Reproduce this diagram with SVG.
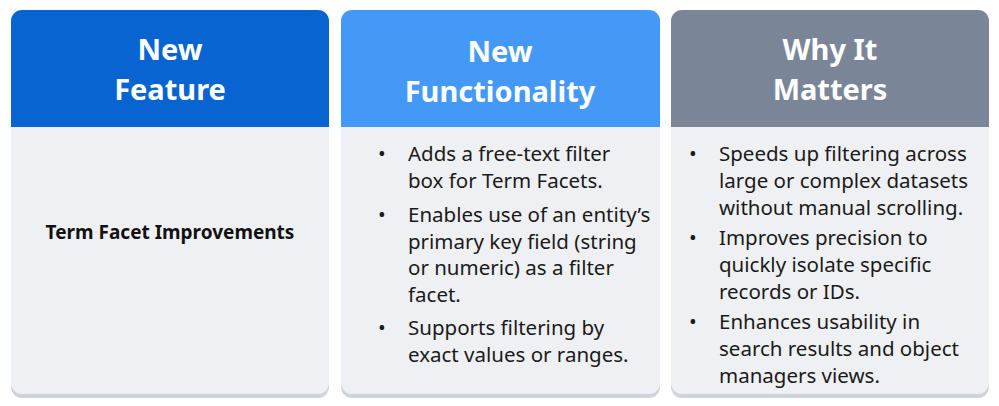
<svg xmlns="http://www.w3.org/2000/svg" width="999" height="406" viewBox="0 0 999 406">
<style>
.h{font-family:"Noto Sans","Open Sans",sans-serif;font-weight:700;font-size:29px;fill:#fff;text-anchor:middle}
.t{font-family:"Noto Sans","Open Sans",sans-serif;font-size:20.5px;fill:#1a1a1a}
.b{font-family:"Noto Sans",sans-serif;font-weight:700;font-size:19px;fill:#111;text-anchor:middle}
.body{fill:#eff0f3}
.sh{fill:#cfd3db}
</style>
<g id="card1">
<rect class="sh" x="11" y="14" width="318" height="384" rx="11"/>
<rect class="body" x="11" y="10" width="318" height="384" rx="11"/>
<path d="M11 127V21a11 11 0 0 1 11-11h296a11 11 0 0 1 11 11v106z" fill="#0864d1"/>
<text class="h" x="170" y="60">New</text>
<text class="h" x="170" y="100">Feature</text>
<text class="b" x="170" y="239">Term Facet Improvements</text>
</g>
<g id="card2">
<rect class="sh" x="341" y="14" width="319" height="384" rx="11"/>
<rect class="body" x="341" y="10" width="319" height="384" rx="11"/>
<path d="M341 127V21a11 11 0 0 1 11-11h297a11 11 0 0 1 11 11v106z" fill="#4599f6"/>
<text class="h" x="500" y="62">New</text>
<text class="h" x="500" y="102">Functionality</text>
<g class="t">
<text x="378" y="161">•</text><text x="408" y="161">Adds a free-text filter</text>
<text x="408" y="188">box for Term Facets.</text>
<text x="378" y="222">•</text><text x="408" y="222">Enables use of an entity’s</text>
<text x="408" y="249">primary key field (string</text>
<text x="408" y="275">or numeric) as a filter</text>
<text x="408" y="302">facet.</text>
<text x="378" y="335">•</text><text x="408" y="335">Supports filtering by</text>
<text x="408" y="362">exact values or ranges.</text>
</g>
</g>
<g id="card3">
<rect class="sh" x="671" y="14" width="318" height="384" rx="11"/>
<rect class="body" x="671" y="10" width="318" height="384" rx="11"/>
<path d="M671 127V21a11 11 0 0 1 11-11h296a11 11 0 0 1 11 11v106z" fill="#7a8598"/>
<text class="h" x="830" y="60">Why It</text>
<text class="h" x="830" y="100">Matters</text>
<g class="t">
<text x="689" y="161">•</text><text x="719" y="161">Speeds up filtering across</text>
<text x="719" y="188">large or complex datasets</text>
<text x="719" y="215">without manual scrolling.</text>
<text x="689" y="245">•</text><text x="719" y="245">Improves precision to</text>
<text x="719" y="272">quickly isolate specific</text>
<text x="719" y="299">records or IDs.</text>
<text x="689" y="329">•</text><text x="719" y="329">Enhances usability in</text>
<text x="719" y="356">search results and object</text>
<text x="719" y="383">managers views.</text>
</g>
</g>
<g id="connectors"/>
</svg>
